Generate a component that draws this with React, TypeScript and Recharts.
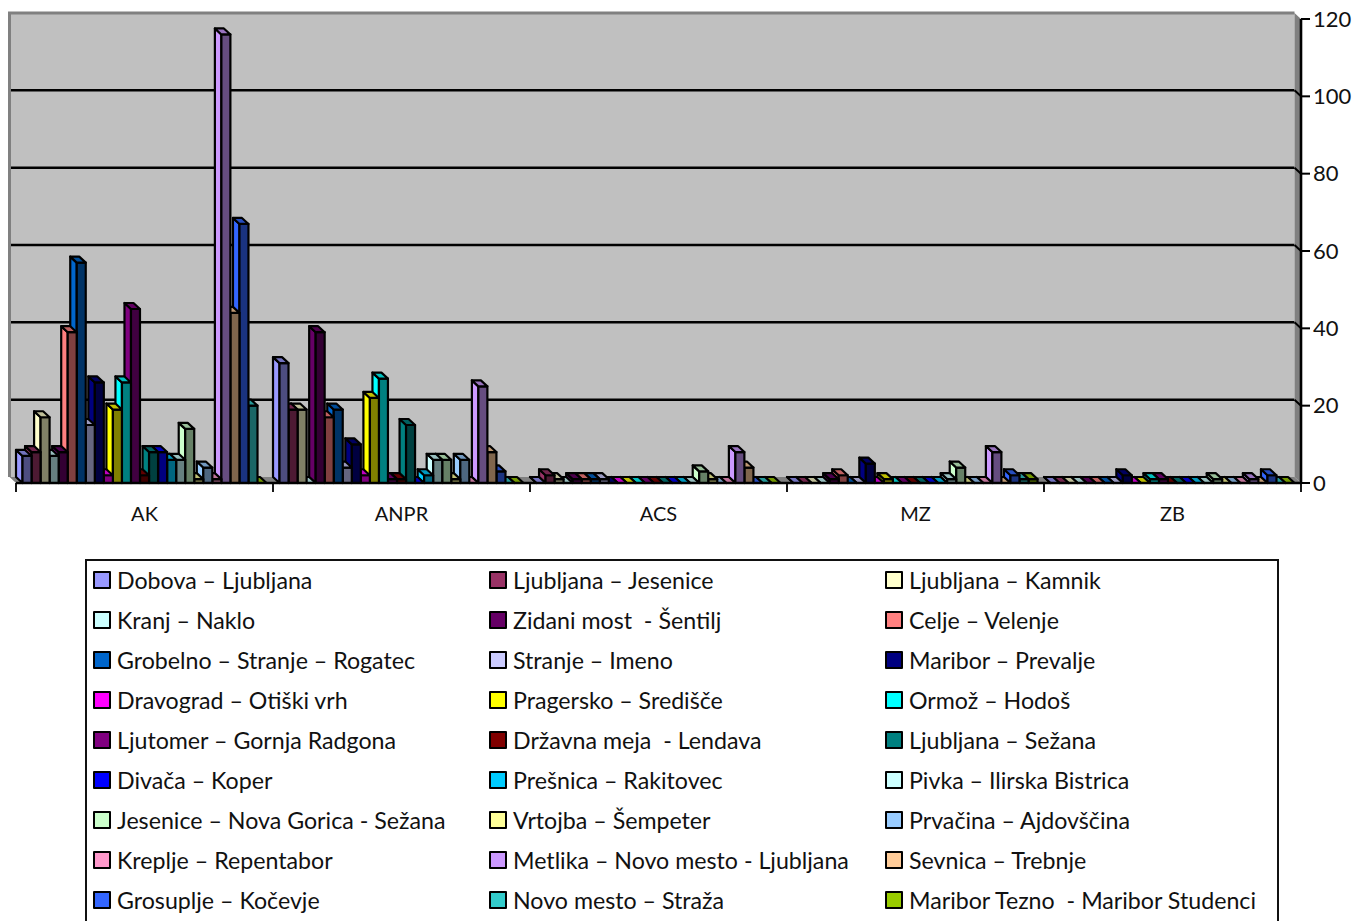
import React from "react";
import {
  BarChart,
  Bar,
  XAxis,
  YAxis,
  CartesianGrid,
  ReferenceArea,
  Legend,
} from "recharts";

const categories = ["AK", "ANPR", "ACS", "MZ", "ZB"];

const routeNames = [
  "Dobova – Ljubljana",
  "Ljubljana – Jesenice",
  "Ljubljana – Kamnik",
  "Kranj – Naklo",
  "Zidani most  - Šentilj",
  "Celje – Velenje",
  "Grobelno – Stranje – Rogatec",
  "Stranje – Imeno",
  "Maribor – Prevalje",
  "Dravograd – Otiški vrh",
  "Pragersko – Središče",
  "Ormož – Hodoš",
  "Ljutomer – Gornja Radgona",
  "Državna meja  - Lendava",
  "Ljubljana – Sežana",
  "Divača – Koper",
  "Prešnica – Rakitovec",
  "Pivka – Ilirska Bistrica",
  "Jesenice – Nova Gorica - Sežana",
  "Vrtojba – Šempeter",
  "Prvačina – Ajdovščina",
  "Kreplje – Repentabor",
  "Metlika – Novo mesto - Ljubljana",
  "Sevnica – Trebnje",
  "Grosuplje – Kočevje",
  "Novo mesto – Straža",
  "Maribor Tezno  - Maribor Studenci",
];

const routeColors = [
  "#9999FF", "#993366", "#FFFFCC", "#CCFFFF", "#660066", "#FF8080", "#0066CC",
  "#CCCCFF", "#000080", "#FF00FF", "#FFFF00", "#00FFFF", "#800080", "#800000",
  "#008080", "#0000FF", "#00CCFF", "#CCFFFF", "#CCFFCC", "#FFFF99", "#99CCFF",
  "#FF99CC", "#CC99FF", "#FFCC99", "#3366FF", "#33CCCC", "#99CC00",
];

// Counts per route, one list per category, in route order.
const akValues = [7, 8, 17, 7, 8, 39, 57, 15, 26, 2, 19, 26, 45, 2, 8, 8, 6, 6, 14, 1, 4, 1, 116, 44, 67, 20, 0];
const anprValues = [31, 19, 19, 0, 39, 17, 19, 4, 10, 2, 22, 27, 1, 1, 15, 0, 2, 6, 6, 1, 6, 0, 25, 8, 3, 0, 0];
const acsValues = [0, 2, 1, 0, 1, 1, 1, 1, 0, 0, 0, 0, 0, 0, 0, 0, 0, 0, 3, 1, 0, 0, 8, 4, 0, 0, 0];
const mzValues = [0, 0, 0, 0, 1, 2, 0, 0, 5, 0, 1, 0, 0, 0, 0, 0, 0, 1, 4, 0, 0, 0, 8, 0, 2, 1, 1];
const zbValues = [0, 0, 0, 0, 0, 0, 0, 0, 2, 0, 0, 1, 1, 0, 0, 0, 0, 0, 1, 0, 0, 0, 1, 0, 2, 0, 0];

const categoryValues = [akValues, anprValues, acsValues, mzValues, zbValues];

const valueTicks = [0, 20, 40, 60, 80, 100, 120];
const VALUE_MAX = 120;
const groupEdges = [0, 1, 2, 3, 4, 5];
const groupCentres = [0.5, 1.5, 2.5, 3.5, 4.5];

// Each group is laid out on a numeric axis: a group spans one unit, and the
// routes sit side by side inside it with a small lead-in.
const SLOTS_PER_GROUP = 28.43;
const LEAD_SLOTS = 1.22;

const rows = categoryValues.flatMap((values, c) =>
  values.map((value, route) => ({
    slot: c + (LEAD_SLOTS + route) / SLOTS_PER_GROUP,
    route,
    [`r${route}`]: value,
  }))
);

const DEPTH_X = 6.5;
const DEPTH_Y = 6;
const FONT = "Lato, sans-serif";
const OUTLINE = 2.2;
const PLOT = { left: 16, top: 19, width: 1285, height: 464 };

function shade(hex: string, factor: number) {
  const n = parseInt(hex.slice(1), 16);
  const channel = (shift: number) => Math.round(((n >> shift) & 255) * factor);
  return `rgb(${channel(16)},${channel(8)},${channel(0)})`;
}

// An oblique column: front face, receding left face and top.
function Column(props: any) {
  const { x, y, width, height, color } = props;
  const side = [
    [x, y],
    [x - DEPTH_X, y - DEPTH_Y],
    [x - DEPTH_X, y + height - DEPTH_Y],
    [x, y + height],
  ];
  const top = [
    [x, y],
    [x + width, y],
    [x + width - DEPTH_X, y - DEPTH_Y],
    [x - DEPTH_X, y - DEPTH_Y],
  ];
  const common = { stroke: "#000", strokeWidth: OUTLINE, strokeLinejoin: "round" as const };
  return (
    <g>
      <polygon points={side.join(" ")} fill={color} {...common} />
      <rect x={x} y={y} width={width} height={height} fill={shade(color, 0.5)} {...common} />
      <polygon points={top.join(" ")} fill={shade(color, 0.75)} {...common} />
    </g>
  );
}

// Right wall and floor of the plot box, the frame of the back wall, and the
// short steps that carry each gridline down the right wall to its tick.
function PlotBox(props: any) {
  const { x, y, width, height } = props;
  const right = x + width;
  const bottom = y + height;
  const backLeft = x - DEPTH_X;
  const backTop = y - DEPTH_Y;
  return (
    <g>
      <polyline
        points={`${backLeft},${bottom - DEPTH_Y} ${backLeft},${backTop} ${right - DEPTH_X},${backTop}`}
        fill="none"
        stroke="#808080"
        strokeWidth={3}
      />
      <polygon
        points={`${right},${y} ${right},${bottom} ${right - DEPTH_X},${bottom - DEPTH_Y} ${right - DEPTH_X},${backTop}`}
        fill="#808080"
      />
      <polygon
        points={`${x},${bottom} ${right},${bottom} ${right - DEPTH_X},${bottom - DEPTH_Y} ${backLeft},${bottom - DEPTH_Y}`}
        fill="#808080"
      />
      {valueTicks.slice(1, -1).map((v) => {
        const tickY = bottom - (height * v) / VALUE_MAX;
        return (
          <line
            key={v}
            x1={right - DEPTH_X}
            y1={tickY - DEPTH_Y}
            x2={right}
            y2={tickY}
            stroke="#000"
            strokeWidth={2}
          />
        );
      })}
    </g>
  );
}

// Gridlines sit on the back wall, which is set back from the axes.
function WallGridLine(props: any) {
  const { x1, x2, y1 } = props;
  if (y1 > PLOT.top + PLOT.height - 3 || y1 < PLOT.top + 3) return <g />;
  return <line x1={x1} x2={x2} y1={y1 - DEPTH_Y} y2={y1 - DEPTH_Y} stroke="#000" strokeWidth={2.5} />;
}

function RouteLegend() {
  return (
    <div
      style={{
        position: "relative",
        boxSizing: "border-box",
        width: 1194,
        height: 362,
        background: "#fff",
        border: "2px solid #111",
        borderBottom: "none",
        fontFamily: FONT,
        fontSize: 23.2,
        color: "#111",
      }}
    >
      {routeNames.map((name, i) => {
        const column = i % 3;
        const row = Math.floor(i / 3);
        return (
          <div
            key={name}
            style={{
              position: "absolute",
              left: 6 + column * 396,
              top: 9 + row * 40,
              height: 20,
              display: "flex",
              alignItems: "center",
              whiteSpace: "pre",
            }}
          >
            <span
              style={{
                display: "inline-block",
                boxSizing: "border-box",
                width: 18,
                height: 18,
                marginRight: 6,
                background: routeColors[i],
                border: "2px solid #000",
                borderRadius: 1,
              }}
            />
            <span>{name}</span>
          </div>
        );
      })}
    </div>
  );
}

const routeDrawOrder = routeNames.map((_, i) => routeNames.length - 1 - i);

export default function App() {
  return (
    <div style={{ position: "absolute", left: 0, top: 0, width: 1354, height: 921, overflow: "hidden", background: "#fff" }}>
      <BarChart
        width={1354}
        height={921}
        data={rows}
        barSize={9}
        margin={{ top: PLOT.top, right: 0, bottom: 398, left: PLOT.left }}
      >
        <CartesianGrid
          x={PLOT.left - DEPTH_X}
          y={PLOT.top - DEPTH_Y}
          width={PLOT.width}
          height={PLOT.height}
          vertical={false}
          horizontal={WallGridLine as any}
          stroke="#000"
          fill="#C0C0C0"
          fillOpacity={1}
        />
        <ReferenceArea x1={0} x2={5} y1={0} y2={VALUE_MAX} shape={PlotBox} fill="none" stroke="none" />
        <XAxis
          type="number"
          dataKey="slot"
          domain={[0, 5]}
          ticks={groupEdges}
          interval={0}
          height={2}
          tickFormatter={() => ""}
          tickLine={{ stroke: "#000", strokeWidth: 1.8 }}
          tickSize={9}
          axisLine={{ stroke: "#000", strokeWidth: 2.6 }}
        />
        <XAxis
          xAxisId="groups"
          type="number"
          dataKey="slot"
          domain={[0, 5]}
          ticks={groupCentres}
          interval={0}
          height={38}
          axisLine={false}
          tickLine={false}
          tickMargin={16}
          tick={{ fill: "#111", fontFamily: FONT, fontSize: 20 }}
          tickFormatter={(v: number) => categories[Math.floor(v)]}
        />
        <YAxis
          orientation="right"
          width={53}
          type="number"
          domain={[0, VALUE_MAX]}
          ticks={valueTicks}
          interval={0}
          tick={{ fill: "#111", fontFamily: FONT, fontSize: 22 }}
          tickLine={{ stroke: "#000", strokeWidth: 2 }}
          tickSize={9}
          tickMargin={3}
          axisLine={{ stroke: "#000", strokeWidth: 2.6 }}
        />
        <Legend
          layout="vertical"
          align="center"
          verticalAlign="middle"
          content={<RouteLegend />}
          wrapperStyle={{ position: "absolute", left: 85, top: 559, width: 1194, height: 362, margin: 0 }}
        />
        {routeDrawOrder.map((route) => (
          <Bar
            key={route}
            dataKey={`r${route}`}
            name={routeNames[route]}
            stackId="routes"
            fill={routeColors[route]}
            isAnimationActive={false}
            shape={(p: any) =>
              p.payload.route === route ? <Column {...p} color={routeColors[route]} /> : <g />
            }
          />
        ))}
      </BarChart>
    </div>
  );
}
